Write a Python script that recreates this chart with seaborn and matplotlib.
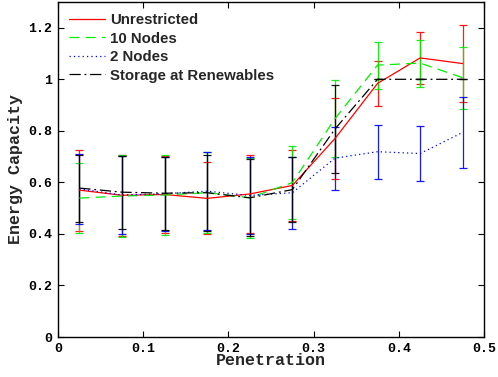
import numpy as np
import pandas as pd
import matplotlib
matplotlib.use("Agg")
import matplotlib.pyplot as plt
import seaborn as sns

penetration = [0.025, 0.075, 0.125, 0.175, 0.225, 0.275, 0.325, 0.375, 0.425, 0.475]
series_names = ["Unrestricted", "10 Nodes", "2 Nodes", "Storage at Renewables"]

unres_mean = [0.570, 0.550, 0.553, 0.538, 0.555, 0.588, 0.770, 0.984, 1.083, 1.061]
unres_err = [0.157, 0.158, 0.150, 0.140, 0.150, 0.137, 0.158, 0.086, 0.100, 0.150]
n10_mean = [0.539, 0.547, 0.551, 0.560, 0.540, 0.599, 0.847, 1.055, 1.063, 1.006]
n10_err = [0.137, 0.158, 0.156, 0.158, 0.154, 0.143, 0.149, 0.091, 0.091, 0.121]
n2_mean = [0.575, 0.551, 0.556, 0.566, 0.549, 0.560, 0.694, 0.719, 0.712, 0.794]
n2_err = [0.137, 0.153, 0.144, 0.150, 0.148, 0.140, 0.122, 0.105, 0.107, 0.138]
ren_mean = [0.578, 0.562, 0.558, 0.560, 0.540, 0.572, 0.807, 1.000, 1.000, 1.000]
ren_err = [0.130, 0.142, 0.141, 0.148, 0.149, 0.127, 0.170, 0.000, 0.000, 0.000]

xtick_vals = [0, 0.1, 0.2, 0.3, 0.4, 0.5]
xtick_labels = ["0", "0.1", "0.2", "0.3", "0.4", "0.5"]
ytick_vals = [0, 0.2, 0.4, 0.6, 0.8, 1.0, 1.2]
ytick_labels = ["0", "0.2", "0.4", "0.6", "0.8", "1", "1.2"]

means = [unres_mean, n10_mean, n2_mean, ren_mean]
errs = [unres_err, n10_err, n2_err, ren_err]
colors = {"Unrestricted": "#ff0000", "10 Nodes": "#00ee00",
          "2 Nodes": "#0000ff", "Storage at Renewables": "#000000"}
dashes = {"Unrestricted": "", "10 Nodes": (8, 5), "2 Nodes": (1, 2.5),
          "Storage at Renewables": (9, 3, 1.5, 3)}

df = pd.DataFrame({
    "Penetration": np.tile(penetration, len(series_names)),
    "Energy Capacity": np.concatenate(means),
    "err": np.concatenate(errs),
    "series": np.repeat(series_names, len(penetration)),
})

sns.set_style("white")
fig = plt.figure(figsize=(4.98, 3.77), dpi=100)
ax = fig.add_axes([0.1165, 0.1061, 0.972 - 0.1165, 0.9947 - 0.1061])

for name in series_names:
    sub = df[df["series"] == name]
    ax.errorbar(sub["Penetration"], sub["Energy Capacity"], yerr=sub["err"],
                fmt="none", ecolor=colors[name], elinewidth=0.9, capsize=3,
                capthick=0.9, alpha=0.9)

sns.lineplot(data=df, x="Penetration", y="Energy Capacity", hue="series",
             style="series", palette=colors, dashes=dashes,
             hue_order=series_names, style_order=series_names,
             linewidth=0.9, ax=ax)

handles, labels = ax.get_legend_handles_labels()
ax.legend(handles=handles, labels=labels, loc="upper left", frameon=False,
          prop={"family": "Liberation Sans", "weight": "bold", "size": 10.8},
          handlelength=2.4, handletextpad=0.3, labelspacing=0.3,
          borderaxespad=0.35)

ax.set_xlim(0, 0.5)
ax.set_ylim(0, 1.3)
ax.set_xticks(xtick_vals)
ax.set_xticklabels(xtick_labels)
ax.set_yticks(ytick_vals)
ax.set_yticklabels(ytick_labels)
mono = {"family": "Liberation Mono", "weight": "bold"}
for lab in ax.get_xticklabels() + ax.get_yticklabels():
    lab.set_fontfamily("Liberation Mono")
    lab.set_fontweight("bold")
    lab.set_fontsize(9.5)
ax.tick_params(direction="in", length=4, width=0.8, top=True, right=True,
               bottom=True, left=True, pad=4, colors="black")
ax.set_xlabel("Penetration", fontdict=dict(mono, size=12), labelpad=-1)
ax.set_ylabel("Energy Capacity", fontdict=dict(mono, size=12), labelpad=4)
for s in ax.spines.values():
    s.set_color("black")
    s.set_linewidth(1.0)

fig.savefig("out.png", dpi=100)
